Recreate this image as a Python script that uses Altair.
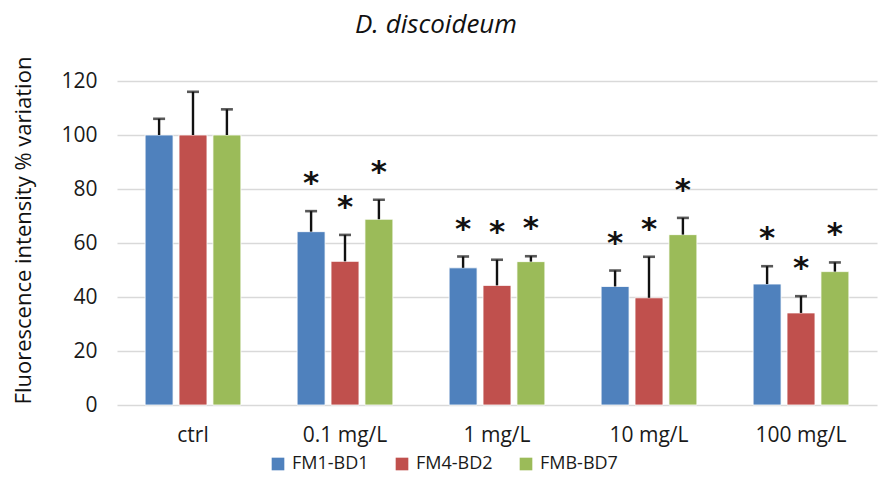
import altair as alt
import pandas as pd

# Treatment levels on the x axis
categories = ["ctrl", "0.1 mg/L", "1 mg/L", "10 mg/L", "100 mg/L"]
series = ["FM1-BD1", "FM4-BD2", "FMB-BD7"]

# Mean fluorescence intensity (% of control) and the upper error (SD)
fm1_mean = [100, 64.2, 50.8, 43.9, 44.8]
fm1_err = [6.0, 7.6, 4.2, 5.9, 6.6]
fm4_mean = [100, 53.2, 44.3, 39.7, 34.1]
fm4_err = [16.0, 9.8, 9.5, 15.2, 6.2]
fmb_mean = [100, 68.8, 53.1, 63.1, 49.4]
fmb_err = [9.5, 7.2, 2.0, 6.2, 3.4]

# Significance vs. control
signif = [False, True, True, True, True]

colors = ["#4F81BD", "#C0504D", "#9BBB59"]

rows = []
for name, means, errs in zip(series, [fm1_mean, fm4_mean, fmb_mean], [fm1_err, fm4_err, fmb_err]):
    for cat, m, e, s in zip(categories, means, errs, signif):
        rows.append({"cat": cat, "series": name, "mean": m, "top": m + e,
                     "star": "*" if s else ""})
df = pd.DataFrame(rows)

FONT = "Open Sans"
INK = "#1a1a1a"

x_enc = alt.X("cat:N", sort=categories, title=None,
              scale=alt.Scale(paddingInner=0.37, paddingOuter=0.185),
              axis=alt.Axis(labelAngle=0, labelFontSize=21, labelColor=INK,
                            labelFont=FONT, labelPadding=19, ticks=False,
                            domain=False, grid=False))
xoff = alt.XOffset("series:N", sort=series,
                   scale=alt.Scale(paddingInner=0.176, paddingOuter=0))

base = alt.Chart(df)

bars = base.mark_bar(stroke="white", strokeWidth=0.8).encode(
    x=x_enc,
    xOffset=xoff,
    y=alt.Y("mean:Q", scale=alt.Scale(domain=[0, 120]),
            title="Fluorescence intensity % variation",
            axis=alt.Axis(values=[0, 20, 40, 60, 80, 100, 120], ticks=False,
                          domain=False, gridColor="#d9d9d9", gridWidth=1.5,
                          labelFontSize=21, labelFont=FONT, labelColor=INK,
                          labelPadding=20, titleFont=FONT, titleFontSize=22,
                          titleFontWeight="normal", titleColor="#111111",
                          titleX=-94, titleY=149, titleBaseline="middle")),
    color=alt.Color("series:N", sort=series,
                    scale=alt.Scale(domain=series, range=colors),
                    legend=alt.Legend(title=None, orient="none", direction="horizontal",
                                      legendX=152, legendY=374, symbolType="square",
                                      symbolSize=160, symbolStrokeWidth=0,
                                      labelFont=FONT, labelFontSize=18,
                                      labelColor=INK, columnPadding=24,
                                      labelOffset=5)),
)

err = base.mark_rule(color="#111111", strokeWidth=2.4).encode(
    x=alt.X("cat:N", sort=categories),
    xOffset=xoff,
    y="mean:Q",
    y2="top:Q",
)

caps = base.mark_tick(color="#111111", thickness=2.6, size=12, orient="horizontal").encode(
    x=alt.X("cat:N", sort=categories),
    xOffset=xoff,
    y="top:Q",
)

stars = base.mark_text(font="DejaVu Sans", fontSize=31, color="#111111",
                       fontWeight="bold", baseline="middle", dy=-27).encode(
    x=alt.X("cat:N", sort=categories),
    xOffset=xoff,
    y="top:Q",
    text="star:N",
)

chart = alt.layer(bars, err, caps, stars).properties(
    width=760, height=324,
    title=alt.TitleParams("D. discoideum", font=FONT, fontSize=26, fontStyle="italic",
                          fontWeight="normal", color="#111111", anchor="middle",
                          dx=-61, offset=11),
    autosize=alt.AutoSizeParams(type="none"),
    padding={"left": 117, "top": 81, "right": 3, "bottom": 89},
).configure_view(stroke=None)

chart.save("out.html", embed_options={"renderer": "svg", "actions": False})
